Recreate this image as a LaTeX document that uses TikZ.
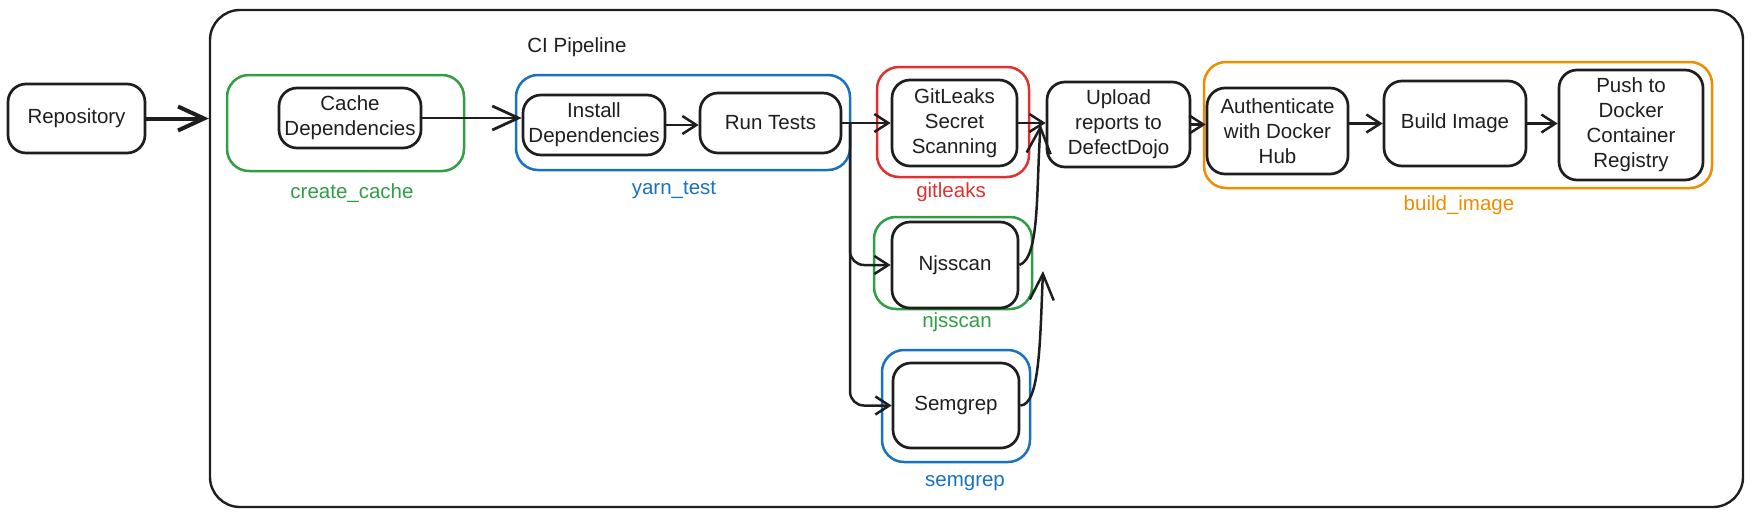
\documentclass[tikz,border=0pt]{standalone}
\usepackage{fontspec}
\setmainfont{Liberation Sans}
\usetikzlibrary{arrows.meta,calc}
\definecolor{ink}{HTML}{1E1E1E}
\definecolor{xgreen}{HTML}{2F9E44}
\definecolor{xblue}{HTML}{1971C2}
\definecolor{xred}{HTML}{E03131}
\definecolor{xorange}{HTML}{F08C00}
\tikzset{
  box/.style={draw=ink, line width=2.7pt, rounded corners=18pt, inner sep=0pt, align=center, text=ink, font=\fontsize{20.5}{25}\selectfont},
  sz/.style 2 args={minimum width=#1pt, minimum height=#2pt},
  grp/.style={draw=#1, line width=2.5pt, rounded corners=22pt, inner sep=0pt},
  lbl/.style={text=#1, font=\fontsize{20.5}{25}\selectfont, inner sep=0pt},
  arr/.style={draw=ink, line width=2.5pt, -{Straight Barb[length=14pt,width=18pt]}},
  bigarr/.style={draw=ink, line width=2.5pt, -{Straight Barb[length=26pt,width=24pt]}},
}
\begin{document}
\begin{tikzpicture}[x=1pt,y=-1pt]
\useasboundingbox (0,0) rectangle (1752,517);
% container
\node[draw=ink, line width=2.4pt, rounded corners=30pt, sz={1533}{497}] (ci) at (976.5,258.5) {};
\node[lbl=ink] (citext) at (577,47) {CI Pipeline};
% groups
\node[grp=xgreen, sz={237}{96}] (gcache) at (345.5,123) {};
\node[grp=xblue, sz={334}{95}] (gyarn) at (683,122.5) {};
\node[grp=xred, sz={152}{110}] (ggit) at (953,122) {};
\node[grp=xgreen, sz={158}{92}] (gnjs) at (953,263) {};
\node[grp=xblue, sz={148}{112}] (gsem) at (956,406) {};
\node[grp=xorange, sz={508}{126}] (gbuild) at (1458,125) {};
% group labels
\node[lbl=xgreen] (lcache) at (352,193) {create\_cache};
\node[lbl=xblue] (lyarn) at (674,190) {yarn\_test};
\node[lbl=xred] (lgit) at (951,192) {gitleaks};
\node[lbl=xgreen] (lnjs) at (957,322) {njsscan};
\node[lbl=xblue] (lsem) at (965,483) {semgrep};
\node[lbl=xorange] (lbuild) at (1459,205) {build\_image};
% boxes
\node[box, sz={137}{69}] (repo) at (76.5,118.5) {Repository};
\node[box, sz={142}{60}] (cache) at (350,118) {Cache\\Dependencies};
\node[box, sz={142}{60}] (install) at (594,125) {Install\\Dependencies};
\node[box, sz={141}{60}] (run) at (770.5,123) {Run Tests};
\node[box, sz={125}{86}] (git) at (954.5,123) {GitLeaks\\Secret\\Scanning};
\node[box, sz={126}{86}] (njs) at (955,265) {Njsscan};
\node[box, sz={126}{85}] (sem) at (956,405.5) {Semgrep};
\node[box, sz={143}{85}] (upload) at (1118.5,124.5) {Upload\\reports to\\DefectDojo};
\node[box, sz={141}{86}] (auth) at (1277.5,131) {Authenticate\\with Docker\\Hub};
\node[box, sz={142}{85}] (build) at (1455,123.5) {Build Image};
\node[box, sz={144}{110}] (push) at (1631,125) {Push to\\Docker\\Container\\Registry};
% connectors
\draw[bigarr, line width=4pt] (repo.east) -- (repo.east -| ci.west);
\draw[bigarr, line width=2.8pt] (cache.east) -- (cache.east -| install.west);
\draw[arr] (install.east) -- (install.east -| run.west);
\draw[arr] (run.east) -- (run.east -| git.west);
\coordinate (split) at (850,123);
\draw[arr, rounded corners=14pt] (split) |- (njs.west);
\draw[arr, rounded corners=14pt] (split) |- (sem.west);
\draw[arr] (git.east) -- (git.east -| upload.west);
\draw[bigarr] (njs.east) .. controls (1040,258) and (1036,190) .. ([xshift=-5pt]upload.west);
\coordinate (semend) at (1043,271);
\draw[bigarr] (sem.east) .. controls (1040,405) and (1040,340) .. (semend);
\draw[arr] (upload.east) -- (upload.east -| auth.west);
\draw[arr] (auth.east |- build.west) -- (build.west);
\draw[arr] (build.east) -- (build.east -| push.west);
\end{tikzpicture}
\end{document}
